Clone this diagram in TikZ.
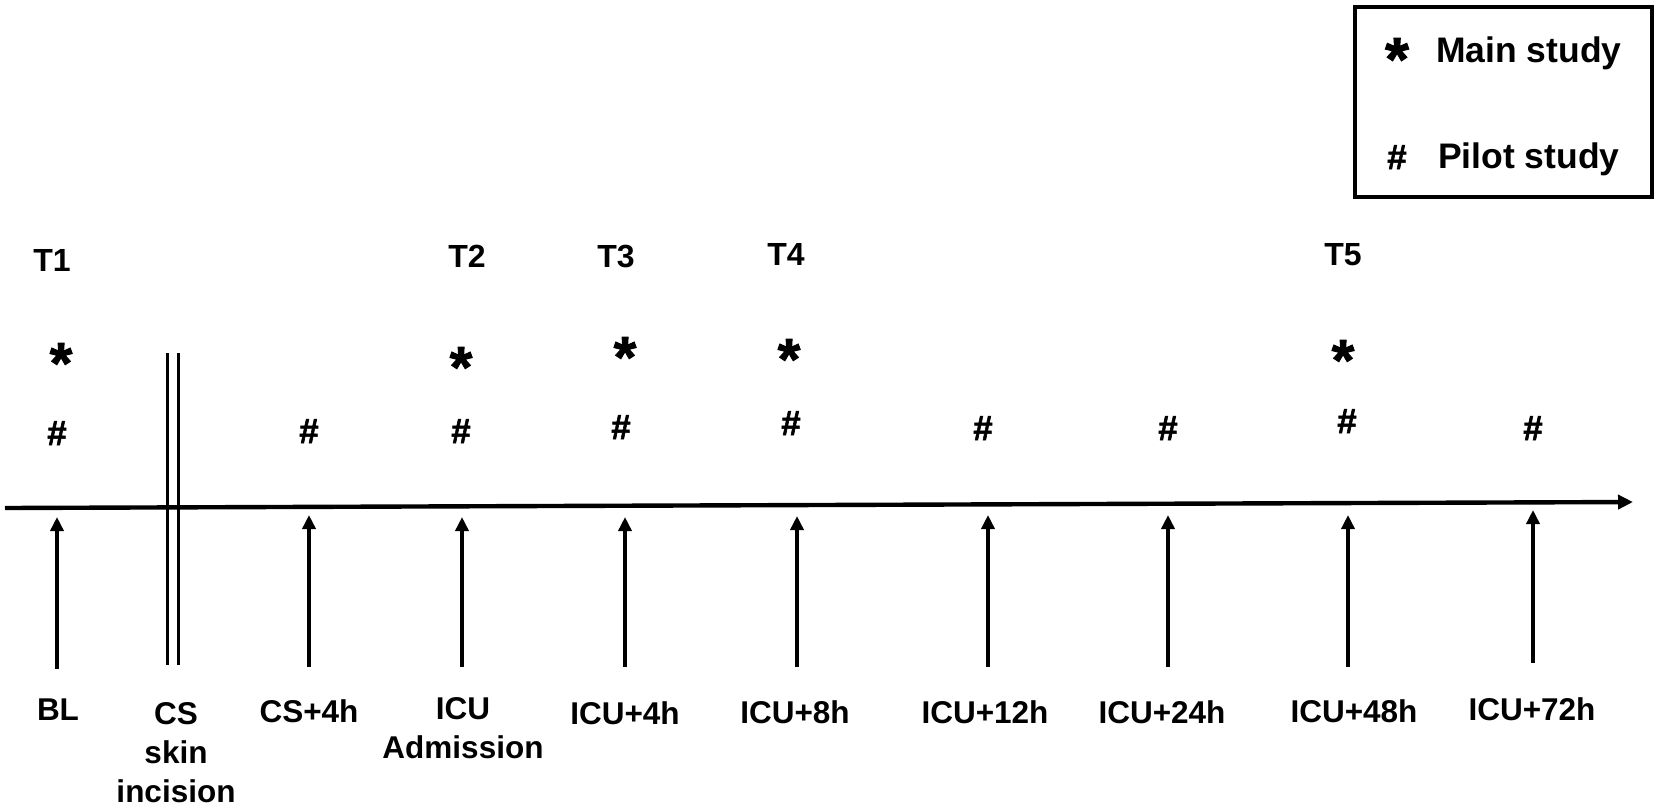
\documentclass[tikz,border=0pt]{standalone}
\usepackage{fontspec}
\setmainfont{Liberation Sans}
\newfontfamily\heavyfont{Liberation Sans}[UprightFeatures={FakeBold=1.6}, BoldFeatures={FakeBold=1.6}]
\usetikzlibrary{arrows.meta}
\begin{document}
\begin{tikzpicture}[x=1pt,y=-1pt,
  lab/.style={font=\bfseries\fontsize{31.5}{39}\selectfont, align=center, anchor=base, inner sep=0pt},
  tlab/.style={font=\bfseries\fontsize{32}{38}\selectfont, anchor=base, inner sep=0pt},
  star/.style={font=\heavyfont\bfseries\fontsize{58}{60}\selectfont, anchor=north, inner sep=0pt},
  hash/.style={font=\heavyfont\bfseries\fontsize{35}{40}\selectfont, anchor=north, inner sep=0pt},
  legtxt/.style={font=\bfseries\fontsize{35.5}{40}\selectfont, anchor=base west, inner sep=0pt},
  tick/.style={line width=3.8pt, -{Triangle[length=14pt,width=13pt]}},
  axis/.style={line width=4.4pt, -{Triangle[length=15pt,width=14pt]}},
  cut/.style={line width=3pt}]
\useasboundingbox (0,0) rectangle (1660,807);

% legend
\node[draw, line width=3.5pt, minimum width=297pt, minimum height=190pt, inner sep=0pt] (legend) at (1503.5,102) {};
\node[star, font=\heavyfont\bfseries\fontsize{61}{62}\selectfont] (lstar) at (1397,38) {*};
\node[legtxt] (lmain) at (1436,62) {Main study};
\node[hash] (lhash) at (1397,145) {\#};
\node[legtxt] (lpilot) at (1438,168) {Pilot study};

% axis
\coordinate (axL) at (5,508);
\coordinate (axR) at (1633,502);
\draw[axis] (axL) -- (axR);

% skin incision double line
\coordinate (c1t) at (167,353); \coordinate (c1b) at (167,665);
\coordinate (c2t) at (178,353); \coordinate (c2b) at (178,665);
\draw[cut] (c1t) -- (c1b);
\draw[cut] (c2t) -- (c2b);

% T labels
\node[tlab] (T1) at (52,271) {T1};
\node[tlab] (T2) at (467,267) {T2};
\node[tlab] (T3) at (616,267) {T3};
\node[tlab] (T4) at (786,265) {T4};
\node[tlab] (T5) at (1343,265) {T5};

% stars (main study)
\node[star] (s1) at (61,343) {*};
\node[star] (s2) at (461,347) {*};
\node[star] (s3) at (625,337) {*};
\node[star] (s4) at (789,339) {*};
\node[star] (s5) at (1343,340) {*};

% hashes (pilot study)
\node[hash] (h1) at (57,421) {\#};
\node[hash] (h2) at (309,419) {\#};
\node[hash] (h3) at (461,419) {\#};
\node[hash] (h4) at (621,415) {\#};
\node[hash] (h5) at (791,411) {\#};
\node[hash] (h6) at (983,416) {\#};
\node[hash] (h7) at (1168,416) {\#};
\node[hash] (h8) at (1347,409) {\#};
\node[hash] (h9) at (1533,416) {\#};

% time point arrows
\foreach \n/\x/\t/\b in {a1/57/517/669, a2/309/515/667, a3/462/517/667, a4/625/517/667,
  a5/797/516/667, a6/988/515/667, a7/1168/515/667, a8/1348/515/667, a9/1533/510/663}{
  \coordinate (\n b) at (\x,\b);
  \coordinate (\n t) at (\x,\t);
  \draw[tick] (\n b) -- (\n t);
}

% bottom labels
\node[lab] (BL) at (58,720) {BL};
\node[lab] (CS) at (176,802) {CS\\skin\\incision};
\node[lab] (CS4) at (309,722) {CS+4h};
\node[lab] (ICU) at (463,758) {ICU\\Admission};
\node[lab] (ICU4) at (625,724) {ICU+4h};
\node[lab] (ICU8) at (795,723) {ICU+8h};
\node[lab] (ICU12) at (985,723) {ICU+12h};
\node[lab] (ICU24) at (1162,723) {ICU+24h};
\node[lab] (ICU48) at (1354,722) {ICU+48h};
\node[lab] (ICU72) at (1532,720) {ICU+72h};
\end{tikzpicture}
\end{document}
